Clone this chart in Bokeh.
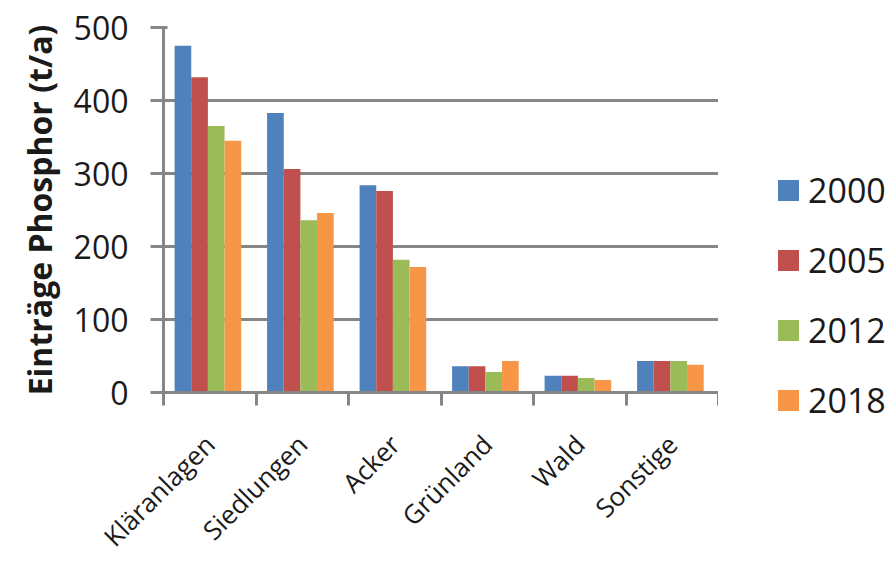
from bokeh.plotting import figure
from bokeh.models import Range1d, FixedTicker, ColumnDataSource, Div
from bokeh.layouts import row
from bokeh.embed import file_html
from bokeh.resources import INLINE

categories = ["Kläranlagen", "Siedlungen", "Acker", "Grünland", "Wald", "Sonstige"]
years = ["2000", "2005", "2012", "2018"]
v2000 = [475, 383, 284, 36, 23, 43]
v2005 = [432, 306, 276, 36, 23, 43]
v2012 = [365, 236, 182, 28, 20, 43]
v2018 = [345, 246, 172, 43, 17, 38]
colors = ["#4F81BD", "#C0504D", "#9BBB59", "#F79646"]
y_ticks = [0, 100, 200, 300, 400, 500]

series = [v2000, v2005, v2012, v2018]
FONT = "Open Sans"
GREY = "#868686"
TXT = "#1a1a1a"

H = 569
W1, W2 = 718, 170
p = figure(width=W1, height=H, output_backend="svg", toolbar_location=None,
           x_range=Range1d(0, len(categories)), y_range=Range1d(0, 500),
           min_border_left=163, min_border_right=0, min_border_top=27,
           min_border_bottom=H - 392)
p.outline_line_color = None
p.xgrid.visible = False
p.ygrid.grid_line_color = GREY
p.ygrid.grid_line_width = 3
p.ygrid.ticker = FixedTicker(ticks=y_ticks)

bw = 0.18
offsets = [-1.5 * bw, -0.5 * bw, 0.5 * bw, 1.5 * bw]
for k, (vals, col) in enumerate(zip(series, colors)):
    src = ColumnDataSource(dict(x=[i + 0.48 + offsets[k] for i in range(len(categories))], top=vals))
    p.vbar(x="x", top="top", width=bw, bottom=0, source=src, fill_color=col, line_color=None)

# y axis
p.yaxis.ticker = FixedTicker(ticks=y_ticks)
p.yaxis.axis_line_color = GREY
p.yaxis.axis_line_width = 3
p.yaxis.major_tick_line_color = GREY
p.yaxis.major_tick_line_width = 3
p.yaxis.major_tick_out = 13
p.yaxis.major_tick_in = 4
p.yaxis.minor_tick_line_color = None
p.yaxis.major_label_text_font = FONT
p.yaxis.major_label_text_font_size = "32px"
p.yaxis.major_label_text_color = TXT
p.yaxis.major_label_standoff = 22
p.yaxis.axis_label = "Einträge Phosphor (t/a)"
p.yaxis.axis_label_text_font = FONT
p.yaxis.axis_label_text_font_size = "32px"
p.yaxis.axis_label_text_font_style = "bold"
p.yaxis.axis_label_text_color = TXT
p.yaxis.axis_label_standoff = 10

# x axis
p.xaxis.ticker = FixedTicker(ticks=[i + 0.5 for i in range(len(categories))],
                             minor_ticks=list(range(len(categories) + 1)))
p.xaxis.major_label_overrides = {i + 0.5: c for i, c in enumerate(categories)}
p.xaxis.major_tick_line_color = None
p.xaxis.major_tick_out = 13
p.xaxis.minor_tick_line_color = GREY
p.xaxis.minor_tick_line_width = 3
p.xaxis.minor_tick_out = 13
p.xaxis.minor_tick_in = 0
p.xaxis.axis_line_color = GREY
p.xaxis.axis_line_width = 3
p.xaxis.major_label_orientation = 0.785398
p.xaxis.major_label_text_font = FONT
p.xaxis.major_label_text_font_size = "26px"
p.xaxis.major_label_text_color = TXT
p.xaxis.major_label_standoff = 34

# legend as an HTML panel to the right of the plot
legend_first_center, legend_pitch = 190, 70
parts = []
for i, (yr, col) in enumerate(zip(years, colors)):
    cy = legend_first_center + legend_pitch * i
    parts.append(
        f'<div style="position:absolute;left:60px;top:{cy - 10.5}px;width:21px;height:21px;'
        f'background:{col};"></div>')
    parts.append(
        f'<div style="position:absolute;left:90px;top:{cy - 24}px;height:48px;line-height:48px;'
        f'font-family:\'{FONT}\';font-size:34px;color:{TXT};white-space:nowrap;">{yr}</div>')
legend_div = Div(text=f'<div style="position:relative;width:{W2}px;height:{H}px;">{"".join(parts)}</div>',
                 width=W2, height=H, margin=(0, 0, 0, 0))

layout = row(p, legend_div)
open("out.html", "w").write(file_html(layout, INLINE))
